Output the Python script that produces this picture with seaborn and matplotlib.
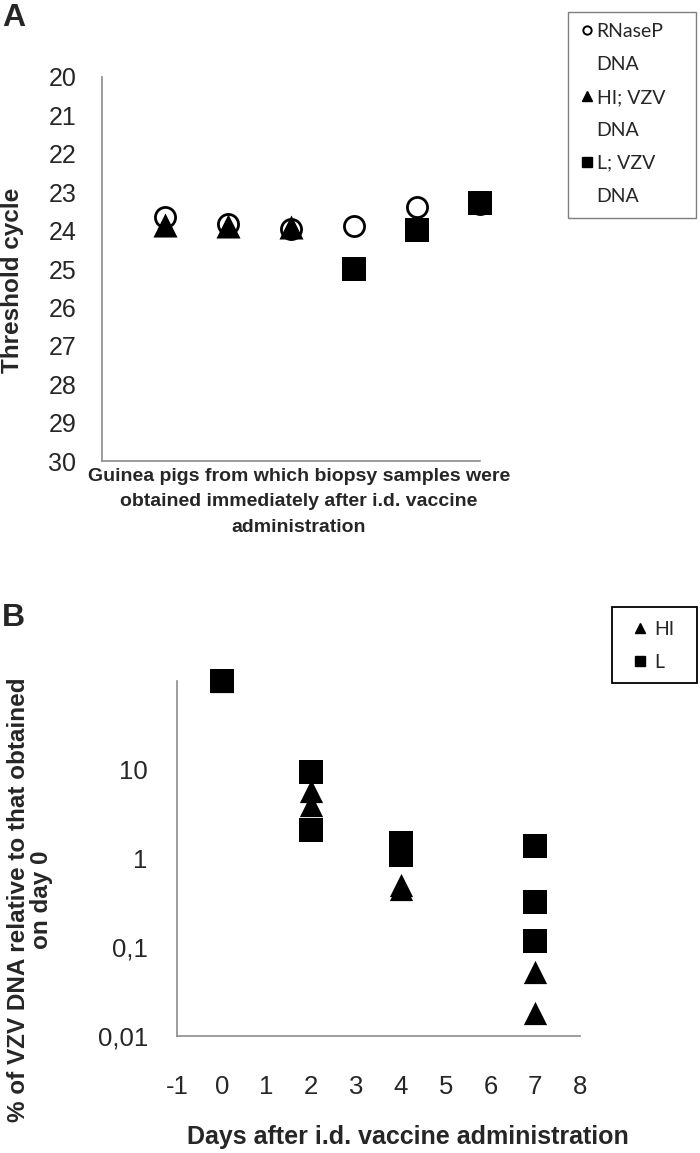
import pandas as pd
import matplotlib
matplotlib.use('Agg')
import matplotlib.pyplot as plt
from matplotlib.lines import Line2D
from matplotlib.patches import Rectangle
import seaborn as sns

# --- dados painel A (Ct por cobaia) ---
pigs = [1, 2, 3, 4, 5, 6]
ct_rnasep = [23.64, 23.83, 23.97, 23.88, 23.38, 23.32]
pigs_hi = [1, 2, 3]
ct_hi = [23.85, 23.88, 23.9]
pigs_l = [4, 5, 6]
ct_l = [25.0, 23.98, 23.29]
ct_ticks = list(range(20, 31))

# --- dados painel B (% DNA VZV relativo ao dia 0) ---
days_hi = [0, 2, 2, 4, 4, 7, 7]
pct_hi = [100, 5.8, 4.0, 0.5, 0.45, 0.053, 0.018]
days_l = [0, 2, 2, 4, 4, 7, 7, 7]
pct_l = [100, 9.5, 2.1, 1.5, 1.1, 1.4, 0.32, 0.117]
day_ticks = list(range(-1, 9))
pct_ticks = [0.01, 0.1, 1, 10]
pct_labels = ['0,01', '0,1', '1', '10']

df_rn = pd.DataFrame({'pig': pigs, 'ct': ct_rnasep})
df_hi = pd.DataFrame({'pig': pigs_hi, 'ct': ct_hi})
df_l = pd.DataFrame({'pig': pigs_l, 'ct': ct_l})
df_bhi = pd.DataFrame({'day': days_hi, 'pct': pct_hi})
df_bl = pd.DataFrame({'day': days_l, 'pct': pct_l})

sns.set_style('white')
plt.rcParams['font.family'] = ['Liberation Sans', 'DejaVu Sans']

W, H = 700, 1153
fig = plt.figure(figsize=(W / 100, H / 100), dpi=100)

def fx(px):
    return px / W

def fy(py):
    return 1 - py / H

spine_col = '#8c8c8c'

def caixa(x0, y0, x1, y1, cor, lw):
    # moldura da legenda (estilo Excel)
    fig.add_artist(Rectangle((fx(x0), fy(y1)), fx(x1 - x0), (y1 - y0) / H,
                             transform=fig.transFigure, fill=False,
                             edgecolor=cor, linewidth=lw))

# ================= Painel A =================
axA = fig.add_axes([fx(102), fy(461), fx(480 - 102), (461 - 77) / H])
sns.scatterplot(data=df_rn, x='pig', y='ct', ax=axA, marker='o', s=210,
                color='white', edgecolor='black', linewidth=2.0, zorder=3, legend=False)
sns.scatterplot(data=df_hi, x='pig', y='ct', ax=axA, marker='^', s=300,
                color='black', linewidth=0, zorder=4, legend=False)
sns.scatterplot(data=df_l, x='pig', y='ct', ax=axA, marker='s', s=275,
                color='black', linewidth=0, zorder=5, legend=False)
axA.set_xlim(0, 6)
axA.set_ylim(30, 20)
axA.set_yticks(ct_ticks)
axA.set_xticks([])
axA.tick_params(axis='y', length=0, labelsize=18, pad=18.5)
axA.set_xlabel('')
axA.set_ylabel('')
for s in ['top', 'right']:
    axA.spines[s].set_visible(False)
for s in ['left', 'bottom']:
    axA.spines[s].set_color(spine_col)
    axA.spines[s].set_linewidth(1.2)
for c in axA.collections:
    c.set_clip_on(False)

fig.text(fx(13), fy(280), 'Threshold cycle', rotation=90, ha='center', va='center',
         fontsize=17.5, fontweight='bold')
fig.text(fx(299), fy(502),
         'Guinea pigs from which biopsy samples were\nobtained immediately after i.d. vaccine\nadministration',
         ha='center', va='center', fontsize=14, fontweight='bold', linespacing=1.65)
fig.text(fx(2), fy(3), 'A', ha='left', va='top', fontsize=23, fontweight='bold')

# legenda A: uma linha por entrada, "DNA" sem marcador
vazio = Line2D([], [], ls='', marker=None)
hA = [Line2D([], [], marker='o', ls='', markersize=6, markerfacecolor='none',
             markeredgecolor='black', markeredgewidth=1.4), vazio,
      Line2D([], [], marker='^', ls='', markersize=7.5, color='black'), vazio,
      Line2D([], [], marker='s', ls='', markersize=7, color='black'), vazio]
labA = ['RNaseP', 'DNA', 'HI; VZV', 'DNA', 'L; VZV', 'DNA']
legA = axA.legend(hA, labA, loc='upper left', bbox_to_anchor=(fx(580), fy(23)),
                  bbox_transform=fig.transFigure, borderaxespad=0, borderpad=0,
                  prop={'family': 'Lato', 'size': 14}, frameon=False,
                  handlelength=0.7, handletextpad=0.15, labelspacing=0.82)
caixa(568, 12, 696, 218, '#7f7f7f', 1.0)

# ================= Painel B =================
axB = fig.add_axes([fx(177), fy(1036), fx(580 - 177), (1036 - 681) / H])
sns.scatterplot(data=df_bhi, x='day', y='pct', ax=axB, marker='^', s=280,
                color='black', linewidth=0, zorder=3, legend=False)
sns.scatterplot(data=df_bl, x='day', y='pct', ax=axB, marker='s', s=275,
                color='black', linewidth=0, zorder=4, legend=False)
axB.set_yscale('log')
axB.set_ylim(0.01, 100)
axB.set_xlim(-1, 8)
axB.set_yticks(pct_ticks)
axB.set_yticklabels(pct_labels)
axB.minorticks_off()
axB.set_xticks(day_ticks)
axB.set_xticklabels([str(d) for d in day_ticks])
axB.tick_params(axis='both', length=0, labelsize=18.5)
axB.tick_params(axis='y', pad=21)
axB.tick_params(axis='x', pad=28)
axB.set_xlabel('')
axB.set_ylabel('')
for s in ['top', 'right']:
    axB.spines[s].set_visible(False)
for s in ['left', 'bottom']:
    axB.spines[s].set_color(spine_col)
    axB.spines[s].set_linewidth(1.2)
for c in axB.collections:
    c.set_clip_on(False)

fig.text(fx(30), fy(900), '% of VZV DNA relative to that obtained\non day 0', rotation=90,
         ha='center', va='center', fontsize=17.5, fontweight='bold', linespacing=0.95)
fig.text(fx(408), fy(1137), 'Days after i.d. vaccine administration', ha='center',
         va='center', fontsize=18, fontweight='bold')
fig.text(fx(2), fy(603), 'B', ha='left', va='top', fontsize=23, fontweight='bold')

hB = [Line2D([], [], marker='^', ls='', markersize=7.5, color='black'),
      Line2D([], [], marker='s', ls='', markersize=7, color='black')]
legB = axB.legend(hB, ['HI', 'L'], loc='upper left', bbox_to_anchor=(fx(633), fy(621)),
                  bbox_transform=fig.transFigure, borderaxespad=0, borderpad=0,
                  prop={'family': 'Lato', 'size': 14}, frameon=False,
                  handlelength=0.72, handletextpad=0.36, labelspacing=0.8)
caixa(612, 607, 697, 683, 'black', 1.3)

plt.savefig('out.png', dpi=100)
